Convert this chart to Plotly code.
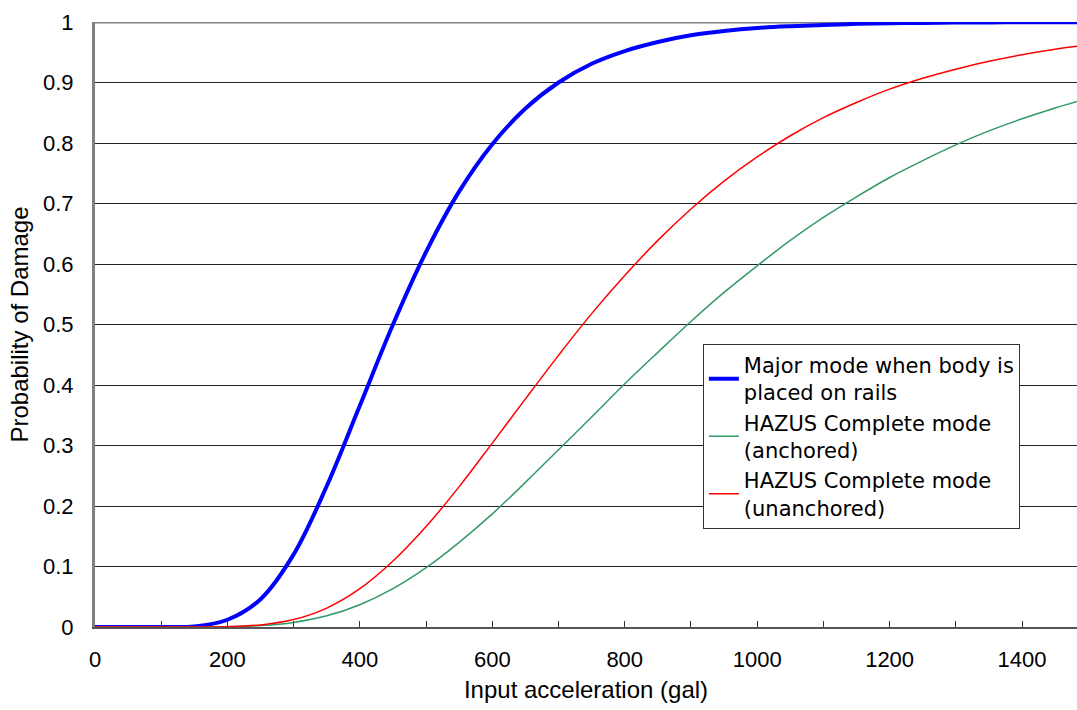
import plotly.graph_objects as go

# Input acceleration (gal)
accel = [0, 50, 100, 150, 200, 250, 300, 350, 400, 450, 500, 550, 600, 650, 700,
         750, 800, 850, 900, 950, 1000, 1050, 1100, 1150, 1200, 1250, 1300, 1350,
         1400, 1450, 1500]

# Probability of damage
major_rails = [0.0, 0.0, 0.0, 0.001, 0.012, 0.046, 0.120, 0.233, 0.366, 0.500,
               0.620, 0.720, 0.798, 0.857, 0.900, 0.931, 0.952, 0.967, 0.978,
               0.985, 0.990, 0.993, 0.995, 0.997, 0.998, 0.9985, 0.999, 0.9993,
               0.9995, 0.9997, 0.9998]
hazus_anchored = [0.0, 0.0, 0.0, 0.0, 0.0004, 0.0023, 0.0076, 0.0185, 0.0368,
                  0.0633, 0.098, 0.140, 0.187, 0.239, 0.293, 0.347, 0.402, 0.454,
                  0.505, 0.553, 0.597, 0.639, 0.677, 0.711, 0.743, 0.771, 0.797,
                  0.820, 0.840, 0.858, 0.874]
hazus_unanchored = [0.0, 0.0, 0.0, 0.0, 0.0006, 0.0035, 0.0123, 0.0313, 0.0633,
                    0.109, 0.166, 0.232, 0.304, 0.377, 0.449, 0.518, 0.581, 0.639,
                    0.691, 0.737, 0.777, 0.812, 0.842, 0.867, 0.889, 0.907, 0.922,
                    0.935, 0.946, 0.955, 0.962]

names = ["Major mode when body is<br>placed on rails",
         "HAZUS Complete mode<br>(anchored)",
         "HAZUS Complete mode<br>(unanchored)"]

FONT = "Liberation Sans, Arial, sans-serif"
LEGFONT = "DejaVu Sans, Liberation Sans, sans-serif"

fig = go.Figure()
fig.add_trace(go.Scatter(x=accel, y=major_rails, mode="lines", name=names[0],
                         line=dict(color="#0000FF", width=4, shape="spline")))
fig.add_trace(go.Scatter(x=accel, y=hazus_anchored, mode="lines", name=names[1],
                         line=dict(color="#339966", width=1.5, shape="spline")))
fig.add_trace(go.Scatter(x=accel, y=hazus_unanchored, mode="lines", name=names[2],
                         line=dict(color="#FF0000", width=1.5, shape="spline")))

fig.update_layout(
    width=1077, height=710,
    margin=dict(l=95, r=0, t=22, b=83),
    paper_bgcolor="white", plot_bgcolor="white",
    font=dict(family=FONT, size=22, color="black"),
    legend=dict(x=0.619, y=0.468, xanchor="left", yanchor="top",
                bgcolor="white", bordercolor="#333333", borderwidth=1,
                font=dict(family=LEGFONT, size=21, color="black"),
                tracegroupgap=0, itemwidth=30),
    xaxis=dict(range=[0, 1483], tickmode="linear", tick0=0, dtick=200,
               showgrid=False, zeroline=False,
               showline=True, linecolor="#555555", linewidth=2,
               ticks="inside", ticklen=6, tickcolor="#333333", tickwidth=1,
               minor=dict(dtick=100, ticks="inside", ticklen=6, tickcolor="#333333"),
               ticklabelstandoff=12,
               title=dict(text="Input acceleration (gal)", standoff=10,
                          font=dict(family=FONT, size=24))),
    yaxis=dict(range=[0, 1], tickmode="linear", tick0=0, dtick=0.1,
               tickformat="~g",
               showgrid=True, gridcolor="#222222", gridwidth=1,
               zeroline=False,
               showline=True, linecolor="#808080", linewidth=3,
               ticks="", ticklabelstandoff=14,
               title=dict(text="Probability of Damage", standoff=8,
                          font=dict(family=FONT, size=24))),
)

# top border at probability 1 (drawn above gridlines, below the curves)
fig.add_shape(type="line", xref="paper", yref="y", x0=0, x1=1, y0=1, y1=1,
              line=dict(color="#808080", width=3), layer="between")

fig.write_html("out.html", config={"displayModeBar": False},
               post_script="document.body.style.margin='0px';document.body.style.overflow='hidden';")
